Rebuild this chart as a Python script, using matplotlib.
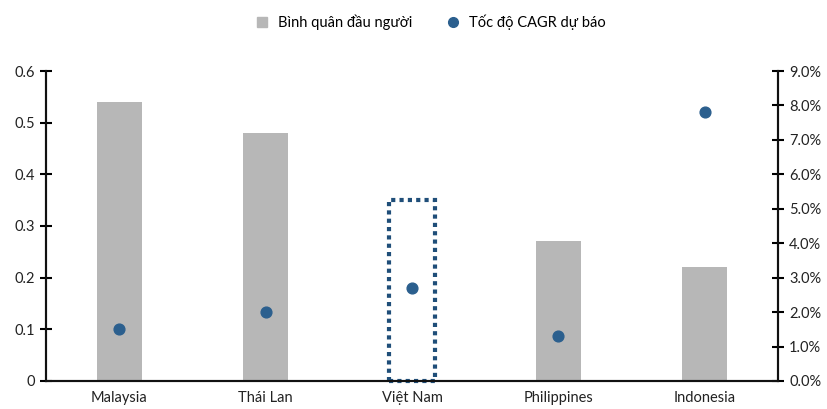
import matplotlib
matplotlib.use('Agg')
import matplotlib.pyplot as plt
from matplotlib.patches import Rectangle
from matplotlib.lines import Line2D
from matplotlib.ticker import FuncFormatter

plt.rcParams['font.family'] = ['Lato', 'DejaVu Sans']

countries = ['Malaysia', 'Thái Lan', 'Việt Nam', 'Philippines', 'Indonesia']
per_capita = [0.54, 0.48, 0.0, 0.27, 0.22]
cagr = [1.5, 2.0, 2.7, 1.3, 7.8]  # %
highlight = 'Việt Nam'
highlight_top = 0.35

bar_color = '#b7b7b7'
dot_color = '#2b5f8e'
box_color = '#1f4e79'
bar_w = 0.31

fig = plt.figure(figsize=(8.28, 4.09), dpi=100)
ax = fig.add_axes([0.0556, 0.0685, 0.884, 0.7579])
ax2 = ax.twinx()

x = list(range(len(countries)))
ax.bar(x, per_capita, width=bar_w, color=bar_color, zorder=1)
ax2.scatter(x, cagr, s=60, color=dot_color, zorder=3)

# dotted frame around the highlighted country
i = countries.index(highlight)
ax.add_patch(Rectangle((i - bar_w / 2, 0), bar_w, highlight_top, fill=False,
                       edgecolor=box_color, linewidth=3, linestyle=(0, (1, 1)),
                       zorder=4, clip_on=False))

ax.set_xlim(-0.5, len(countries) - 0.5)
ax.set_ylim(0, 0.6)
ax2.set_ylim(0, 9)
ax.set_yticks([0, 0.1, 0.2, 0.3, 0.4, 0.5, 0.6])
ax.set_yticklabels(['0', '0.1', '0.2', '0.3', '0.4', '0.5', '0.6'])
ax2.set_yticks(range(10))
ax2.yaxis.set_major_formatter(FuncFormatter(lambda v, p: '%.1f%%' % v))

ax.set_xticks(x)
ax.set_xticklabels(countries)
ax.tick_params(axis='x', length=0, pad=7, labelsize=10.5, colors='#222222')
for a in (ax, ax2):
    a.tick_params(axis='y', direction='inout', length=8, width=1.5, labelsize=10.5,
                  colors='black', labelcolor='#222222', pad=4)
    a.spines['top'].set_visible(False)
    for s in ('left', 'right', 'bottom'):
        a.spines[s].set_linewidth(1.5)
        a.spines[s].set_color('#111111')

handles = [
    Line2D([], [], marker='s', linestyle='none', markersize=7, color=bar_color),
    Line2D([], [], marker='o', linestyle='none', markersize=7, color=dot_color),
]
fig.legend(handles, ['Bình quân đầu người', 'Tốc độ CAGR dự báo'], loc='center',
           bbox_to_anchor=(0.515, 0.945), ncol=2, frameon=False, fontsize=10.5,
           handletextpad=0.1, columnspacing=1.8)

fig.savefig('out.png', dpi=100)
